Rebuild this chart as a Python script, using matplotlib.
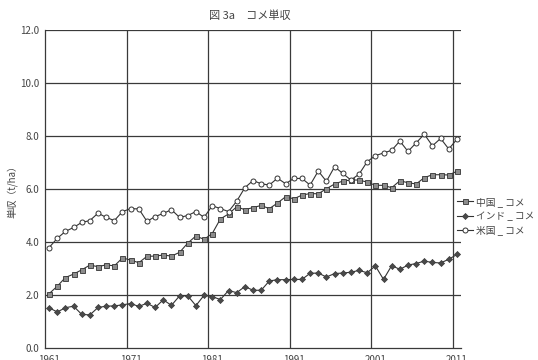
import matplotlib
matplotlib.use("Agg")
import matplotlib.pyplot as plt
import numpy as np

plt.rcParams["font.family"] = ["Noto Sans CJK JP", "DejaVu Sans"]

LINE = "#333333"
GRID = "#3a3a3a"
TEXT = "#444444"

years = np.arange(1961, 2012)

china = [2.06, 2.34, 2.67, 2.80, 2.96, 3.14, 3.08, 3.15, 3.11, 3.41,
         3.33, 3.23, 3.47, 3.48, 3.52, 3.48, 3.62, 3.97, 4.24, 4.11,
         4.33, 4.88, 5.07, 5.34, 5.23, 5.31, 5.39, 5.27, 5.48, 5.72,
         5.64, 5.78, 5.84, 5.83, 6.02, 6.20, 6.31, 6.35, 6.35, 6.27,
         6.15, 6.15, 6.06, 6.32, 6.25, 6.20, 6.44, 6.55, 6.55, 6.54,
         6.68]

india = [1.53, 1.37, 1.53, 1.59, 1.28, 1.26, 1.54, 1.59, 1.60, 1.64,
         1.69, 1.58, 1.70, 1.54, 1.83, 1.62, 1.98, 1.98, 1.61, 2.00,
         1.95, 1.84, 2.18, 2.10, 2.33, 2.19, 2.19, 2.54, 2.59, 2.59,
         2.60, 2.60, 2.83, 2.84, 2.69, 2.82, 2.84, 2.87, 2.94, 2.85,
         3.11, 2.60, 3.12, 2.98, 3.14, 3.20, 3.29, 3.24, 3.22, 3.36,
         3.54]

usa = [3.80, 4.15, 4.41, 4.56, 4.75, 4.82, 5.10, 4.94, 4.82, 5.16,
       5.27, 5.26, 4.79, 4.97, 5.09, 5.23, 4.94, 5.01, 5.16, 4.94,
       5.38, 5.27, 5.16, 5.55, 6.06, 6.33, 6.21, 6.16, 6.42, 6.21,
       6.41, 6.41, 6.16, 6.69, 6.30, 6.85, 6.60, 6.35, 6.57, 7.04,
       7.27, 7.37, 7.47, 7.82, 7.43, 7.75, 8.08, 7.64, 7.92, 7.52,
       7.89]

labels = ["中国 _ コメ", "インド _ コメ", "米国 _ コメ"]
year_ticks = [1961, 1971, 1981, 1991, 2001, 2011]
y_ticks = [0, 2, 4, 6, 8, 10, 12]

fig = plt.figure(figsize=(5.38, 3.6), dpi=100)
ax = fig.add_axes([45 / 538, 1 - 348.3 / 360, 416 / 538, 318 / 360])

# category-style grid: vertical lines sit between the decade categories
for x in np.arange(1970.5, 2011, 10):
    ax.axvline(x, color=GRID, linewidth=0.9, zorder=1)
for y in y_ticks[1:]:
    ax.axhline(y, color=GRID, linewidth=0.9, zorder=1)

ax.plot(years, china, color=LINE, linewidth=0.8, marker="s", markersize=3.6,
        markerfacecolor="#8c8c8c", markeredgecolor="#333333",
        markeredgewidth=0.6, label=labels[0], zorder=3)
ax.plot(years, india, color=LINE, linewidth=0.8, marker="D", markersize=3.1,
        markerfacecolor="#4a4a4a", markeredgecolor="#3a3a3a",
        markeredgewidth=0.5, label=labels[1], zorder=3)
ax.plot(years, usa, color=LINE, linewidth=0.8, marker="o", markersize=3.6,
        markerfacecolor="white", markeredgecolor="#333333",
        markeredgewidth=0.7, label=labels[2], zorder=3)

ax.set_xlim(1960.5, 2011.5)
ax.set_ylim(0, 12)
ax.set_xticks(year_ticks)
ax.set_xticklabels([str(y) for y in year_ticks])
ax.set_yticks(y_ticks)
ax.set_yticklabels([f"{y:.1f}" for y in y_ticks])
ax.tick_params(axis="x", length=0, pad=5, labelsize=7, colors=TEXT)
ax.tick_params(axis="y", length=0, pad=4, labelsize=7, colors=TEXT)

for side in ["top", "right"]:
    ax.spines[side].set_visible(False)
for side in ["left", "bottom"]:
    ax.spines[side].set_color(GRID)
    ax.spines[side].set_linewidth(0.9)

ax.set_ylabel("単収（t/ha）", fontsize=7, color=TEXT, labelpad=2)
fig.text(250 / 538, 1 - 16 / 360, "図 3a　コメ単収", ha="center", va="center",
         fontsize=8, color=TEXT)

fig.legend(loc="center left", bbox_to_anchor=(457 / 538, 1 - 216 / 360),
           frameon=False, fontsize=7, handlelength=1.6, handletextpad=0.4,
           labelspacing=0.45, borderpad=0, borderaxespad=0,
           labelcolor=TEXT)

fig.savefig("out.png", dpi=100)
